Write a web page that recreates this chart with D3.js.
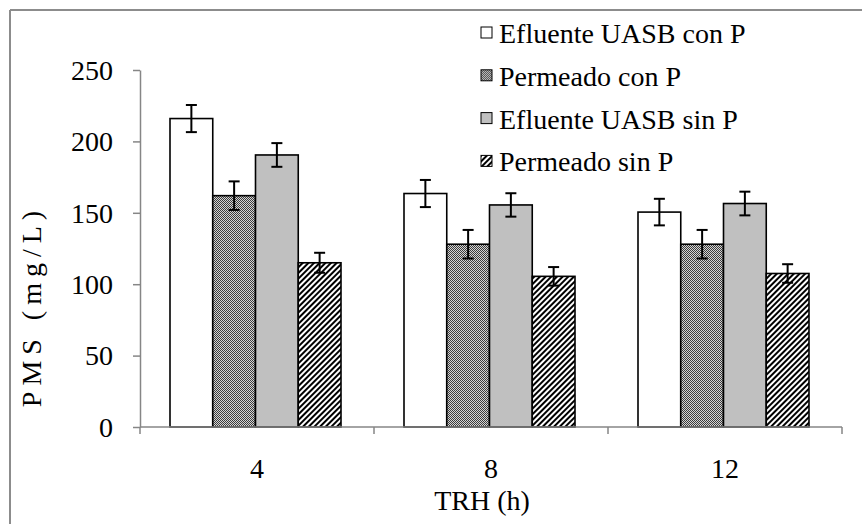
<!DOCTYPE html>
<html>
<head>
<meta charset="utf-8">
<script src="https://cdn.jsdelivr.net/npm/d3@7"></script>
<style>
  body { margin: 0; background: #fff; }
  text { font-family: "Liberation Serif", "Times New Roman", serif; fill: #000; }
</style>
</head>
<body>
<svg id="chart" width="862" height="524"></svg>
<script>
// data
var categories = ["4", "8", "12"];
var seriesNames = ["Efluente UASB con P", "Permeado con P", "Efluente UASB sin P", "Permeado sin P"];
var efluenteConP = [216, 163.5, 150.5];
var permeadoConP = [162, 128, 128];
var efluenteSinP = [190.5, 155.5, 156.5];
var permeadoSinP = [115, 105.5, 107.5];
var errEfluenteConP = [9.5, 9.5, 9.3];
var errPermeadoConP = [10, 10, 10];
var errEfluenteSinP = [8.3, 8.2, 8.3];
var errPermeadoSinP = [7, 6.5, 6.5];
var yTicks = [0, 50, 100, 150, 200, 250];

var values = [efluenteConP, permeadoConP, efluenteSinP, permeadoSinP];
var errors = [errEfluenteConP, errPermeadoConP, errEfluenteSinP, errPermeadoSinP];
var fills = ["#ffffff", "url(#checker)", "#c0c0c0", "url(#hatch)"];

var svg = d3.select("#chart");
var axisColor = "#868686";

// patterns
var defs = svg.append("defs");
var ck = defs.append("pattern").attr("id", "checker").attr("patternUnits", "userSpaceOnUse")
    .attr("width", 2).attr("height", 2);
ck.append("rect").attr("width", 2).attr("height", 2).attr("fill", "#d4d4d4");
ck.append("rect").attr("width", 1).attr("height", 1).attr("fill", "#3c3c3c");
ck.append("rect").attr("x", 1).attr("y", 1).attr("width", 1).attr("height", 1).attr("fill", "#3c3c3c");

var ht = defs.append("pattern").attr("id", "hatch").attr("patternUnits", "userSpaceOnUse")
    .attr("width", 4).attr("height", 4).attr("patternTransform", "rotate(45)");
ht.append("rect").attr("width", 4).attr("height", 4).attr("fill", "#fff");
ht.append("rect").attr("width", 2).attr("height", 4).attr("fill", "#000");

// outer frame (only top and left show)
svg.append("line").attr("x1", 10).attr("y1", 10).attr("x2", 862).attr("y2", 10)
    .attr("stroke", "#8c8c8c").attr("stroke-width", 2);
svg.append("line").attr("x1", 10).attr("y1", 10).attr("x2", 10).attr("y2", 524)
    .attr("stroke", "#8c8c8c").attr("stroke-width", 2);

var x0 = d3.scaleBand().domain(categories).range([140, 842]).padding(0);
var x1 = d3.scaleBand().domain(d3.range(seriesNames.length)).range([30, 201]).padding(0);
var y = d3.scaleLinear().domain([0, 250]).range([427, 70]);

// bars
var groups = svg.selectAll("g.grp").data(categories).enter().append("g")
    .attr("class", "grp")
    .attr("transform", function(d) { return "translate(" + x0(d) + ",0)"; });

groups.each(function(cat, ci) {
    var g = d3.select(this);
    var rows = seriesNames.map(function(s, si) {
        return { si: si, v: values[si][ci], e: errors[si][ci] };
    });
    g.selectAll("rect").data(rows).enter().append("rect")
        .attr("x", function(d) { return x1(d.si); })
        .attr("y", function(d) { return y(d.v); })
        .attr("width", x1.bandwidth())
        .attr("height", function(d) { return y(0) - y(d.v); })
        .attr("fill", function(d) { return fills[d.si]; })
        .attr("stroke", "#000").attr("stroke-width", 1.6);
    // error bars
    var eb = g.selectAll("g.err").data(rows).enter().append("g").attr("class", "err")
        .attr("stroke", "#000").attr("stroke-width", 2);
    eb.append("line")
        .attr("x1", function(d) { return x1(d.si) + x1.bandwidth() / 2; })
        .attr("x2", function(d) { return x1(d.si) + x1.bandwidth() / 2; })
        .attr("y1", function(d) { return y(d.v + d.e); })
        .attr("y2", function(d) { return y(d.v - d.e); });
    [1, -1].forEach(function(sgn) {
        eb.append("line")
            .attr("x1", function(d) { return x1(d.si) + x1.bandwidth() / 2 - 5.5; })
            .attr("x2", function(d) { return x1(d.si) + x1.bandwidth() / 2 + 5.5; })
            .attr("y1", function(d) { return y(d.v + sgn * d.e); })
            .attr("y2", function(d) { return y(d.v + sgn * d.e); });
    });
});

// y axis
var yAxis = svg.append("g").attr("transform", "translate(140,0)")
    .call(d3.axisLeft(y).tickValues(yTicks).tickSize(7).tickSizeOuter(0).tickPadding(20));
yAxis.select(".domain").attr("stroke", axisColor).attr("stroke-width", 1.5);
yAxis.selectAll(".tick line").attr("stroke", axisColor).attr("stroke-width", 1.5);
yAxis.selectAll(".tick text").attr("font-size", 28).attr("font-family", "Liberation Serif")
    .attr("fill", "#000").attr("dy", "0.33em");

// x axis
var xEdges = svg.append("g").attr("transform", "translate(0,427)");
xEdges.append("line").attr("x1", 140).attr("x2", 842).attr("y1", 0).attr("y2", 0)
    .attr("stroke", axisColor).attr("stroke-width", 1.5);
xEdges.selectAll("line.tk").data(categories.concat(["end"])).enter().append("line")
    .attr("class", "tk")
    .attr("x1", function(d, i) { return i < categories.length ? x0(d) : 842; })
    .attr("x2", function(d, i) { return i < categories.length ? x0(d) : 842; })
    .attr("y1", 0).attr("y2", 7)
    .attr("stroke", axisColor).attr("stroke-width", 1.5);
xEdges.selectAll("text").data(categories).enter().append("text")
    .attr("x", function(d) { return x0(d) + x0.bandwidth() / 2; })
    .attr("y", 51)
    .attr("text-anchor", "middle").attr("font-size", 28)
    .text(function(d) { return d; });

// titles
svg.append("text").attr("x", 482).attr("y", 510).attr("text-anchor", "middle")
    .attr("font-size", 28).text("TRH (h)");
svg.append("text").attr("transform", "translate(41,306) rotate(-90)").attr("text-anchor", "middle")
    .attr("font-size", 28).attr("letter-spacing", 6).text("PMS (mg/L)");

// legend
var leg = svg.selectAll("g.leg").data(seriesNames).enter().append("g").attr("class", "leg")
    .attr("transform", function(d, i) { return "translate(481," + (43 + i * 42.8) + ")"; });
leg.append("rect").attr("x", 0).attr("y", -16).attr("width", 11).attr("height", 11)
    .attr("fill", function(d, i) { return fills[i]; })
    .attr("stroke", "#000").attr("stroke-width", 1);
leg.append("text").attr("x", 18).attr("y", 0).attr("font-size", 28)
    .text(function(d) { return d; });
</script>
</body>
</html>
